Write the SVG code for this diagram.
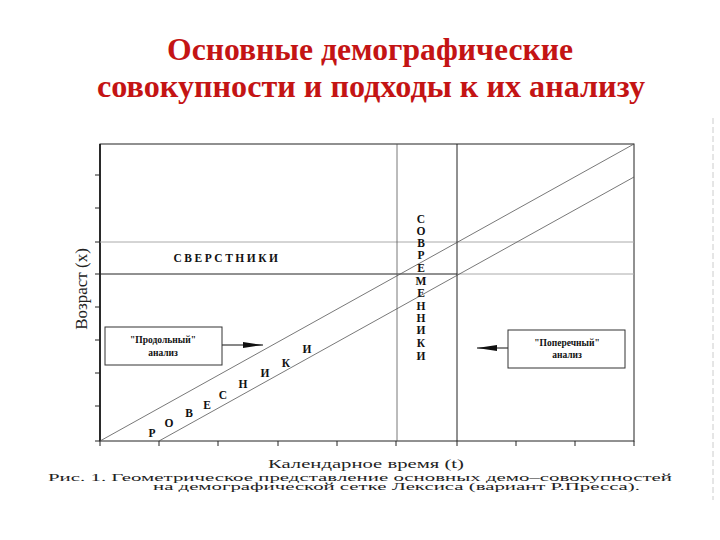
<svg xmlns="http://www.w3.org/2000/svg" width="720" height="540" viewBox="0 0 720 540">
<defs>
<style>
.title{font-family:"Liberation Serif","DejaVu Serif",serif;font-weight:bold;font-size:31px;fill:#c41414;text-anchor:middle}
.ax{font-family:"Liberation Serif","DejaVu Serif",serif;font-size:17px;fill:#222}
.lbl{font-family:"Liberation Serif","DejaVu Serif",serif;font-weight:bold;font-size:11.5px;fill:#111;text-anchor:middle}
.box{fill:#fff;stroke:#333;stroke-width:1}
.bt{font-family:"Liberation Serif","DejaVu Serif",serif;font-weight:bold;font-size:9.5px;fill:#111;text-anchor:middle}
.grid{stroke:#222;stroke-width:1;fill:none}
.thin{stroke:#555;stroke-width:0.8;fill:none}
.gray{stroke:#aaa;stroke-width:1;fill:none}
.cap{font-family:"Liberation Serif","DejaVu Serif",serif;font-size:13px;fill:#222}
.cap2{font-family:"Liberation Serif","DejaVu Serif",serif;font-size:10.5px;fill:#222}
</style>
<marker id="ah" markerWidth="20" markerHeight="8" refX="20" refY="4" orient="auto" markerUnits="userSpaceOnUse">
<path d="M0,1 L20,4 L0,7 Z" fill="#111"/>
</marker>
</defs>
<rect width="720" height="540" fill="#fff"/>
<g id="title">
<text class="title" x="370" y="60" textLength="406" lengthAdjust="spacingAndGlyphs">Основные демографические</text>
<text class="title" x="371" y="97" textLength="548" lengthAdjust="spacingAndGlyphs">совокупности и подходы к их анализу</text>
</g>
<g id="grid">
<rect class="grid" x="100" y="144" width="534" height="297"/>
<line stroke="#111" stroke-width="1.6" x1="100" y1="144" x2="100" y2="441"/>
<line class="gray" x1="100" y1="242" x2="634" y2="242"/>
<line class="grid" x1="100" y1="274" x2="457" y2="274"/>
<line class="gray" x1="457" y1="274" x2="634" y2="274"/>
<line class="thin" x1="397" y1="144" x2="397" y2="441"/>
<line class="grid" x1="457" y1="144" x2="457" y2="441"/>
<path class="grid" d="M95,175H100M95,208H100M95,242H100M95,274H100M95,307H100M95,340H100M95,373H100M95,406H100M95,441H100"/>
<path class="grid" d="M100,441V446M159,441V446M218,441V446M278,441V446M337,441V446M396,441V446M457,441V446M516,441V446M575,441V446M634,441V446"/>
<line class="thin" x1="100" y1="441" x2="634" y2="144"/>
<line class="thin" x1="159" y1="441" x2="634" y2="177"/>
<line stroke="#ccc" stroke-width="1" stroke-dasharray="6,3" x1="713" y1="118" x2="713" y2="500"/>
</g>
<g id="axis-labels">
<text class="ax" transform="translate(87,289) rotate(-90)" text-anchor="middle">Возраст (x)</text>
<text class="cap" x="366" y="468" text-anchor="middle" textLength="196" lengthAdjust="spacingAndGlyphs">Календарное время (t)</text>
</g>
<g id="sverstniki">
<text class="lbl" x="227" y="262" letter-spacing="2.5">СВЕРСТНИКИ</text>
</g>
<g id="sovremenniki">
<text class="lbl" x="421" y="223">С</text>
<text class="lbl" x="421" y="235">О</text>
<text class="lbl" x="421" y="247">В</text>
<text class="lbl" x="421" y="259">Р</text>
<text class="lbl" x="421" y="272">Е</text>
<text class="lbl" x="421" y="285">М</text>
<text class="lbl" x="421" y="297">Е</text>
<text class="lbl" x="421" y="310">Н</text>
<text class="lbl" x="421" y="322">Н</text>
<text class="lbl" x="421" y="334">И</text>
<text class="lbl" x="421" y="347">К</text>
<text class="lbl" x="421" y="360">И</text>
</g>
<g id="rovesniki">
<text class="lbl" x="152" y="437">Р</text>
<text class="lbl" x="169" y="427">О</text>
<text class="lbl" x="189" y="417">В</text>
<text class="lbl" x="207" y="409">Е</text>
<text class="lbl" x="223" y="399">С</text>
<text class="lbl" x="243" y="388">Н</text>
<text class="lbl" x="265" y="377">И</text>
<text class="lbl" x="286" y="367">К</text>
<text class="lbl" x="307" y="353">И</text>
</g>
<g id="connectors">
<line stroke="#111" stroke-width="1" x1="222" y1="345" x2="263" y2="345" marker-end="url(#ah)"/>
<line stroke="#111" stroke-width="1" x1="508" y1="348" x2="477" y2="348" marker-end="url(#ah)"/>
</g>
<g id="prodolny">
<rect class="box" x="105" y="327" width="117" height="38"/>
<text class="bt" x="163" y="343">"Продольный"</text>
<text class="bt" x="163" y="356">анализ</text>
</g>
<g id="poperechny">
<rect class="box" x="508" y="330" width="117" height="38"/>
<text class="bt" x="567" y="346">"Поперечный"</text>
<text class="bt" x="567" y="358">анализ</text>
</g>
<g id="caption">
<text class="cap2" x="48" y="480.5" textLength="624" lengthAdjust="spacingAndGlyphs">Рис. 1. Геометрическое представление основных демо–совокупностей</text>
<text class="cap2" x="153" y="490" textLength="487" lengthAdjust="spacingAndGlyphs">на демографической сетке Лексиса (вариант Р.Пресса).</text>
</g>
</svg>
